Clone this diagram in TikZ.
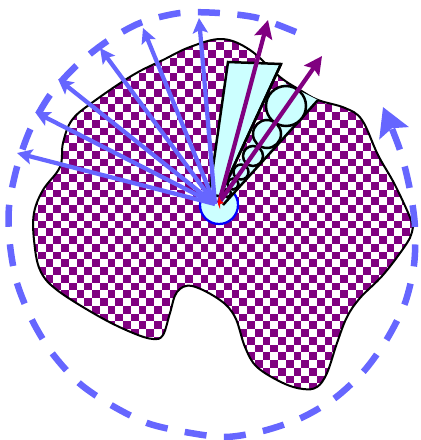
\documentclass[tikz,border=0pt]{standalone}
\usepackage{amsmath,amssymb}
\usetikzlibrary{arrows.meta}
\definecolor{rayblue}{HTML}{6666FF}
\definecolor{checkpurple}{HTML}{800080}
\definecolor{paleCyan}{HTML}{CCFFFF}
\begin{document}
\begin{tikzpicture}[x=0.02cm, y=-0.02cm, >=Stealth,
    ray/.style={rayblue, line width=0.085cm, -{Stealth[length=0.3cm, width=0.3cm, inset=0.06cm]}},
    beam/.style={checkpurple, line width=0.085cm, -{Stealth[length=0.36cm, width=0.36cm, inset=0.06cm]}},
    wedge/.style={fill=paleCyan, draw=black, line width=0.05cm},
    bubble/.style={fill=paleCyan, draw=black, line width=0.05cm}]
    \useasboundingbox (0,0) rectangle (420,440);
    \def\blob{plot[smooth cycle, tension=0.6] coordinates {
        (222,39) (250,50) (280,77) (300,90) (318,100) (345,108) (362,120) (378,155)
        (395,185) (411,220) (412,232) (405,246) (383,275) (360,298) (347,317) (337,343) (327,373)
        (317,387) (303,389) (283,383) (257,367) (245,347) (235,317) (220,300) (192,286)
        (177,292) (170,313) (163,335) (153,339) (133,333) (100,317) (57,290) (40,270)
        (34,240) (34,213) (43,190) (60,167) (63,143) (72,120) (93,102) (133,75)
        (163,60) (190,47)}}

    % Checkered region
    \begin{scope}
        \clip \blob;
        \foreach \i in {0,...,55} \foreach \j in {0,...,57} {
            \pgfmathparse{int(mod(\i+\j,2))}
            \ifnum\pgfmathresult=0
                \fill[checkpurple] (\i*7.75-1,\j*7.75-4.25) rectangle ++(7.75,7.75);
            \fi
        }
    \end{scope}
    \draw[line width=0.04cm] \blob;

    % Dashed sweep
    \draw[rayblue, line width=0.13cm, dash pattern=on 0.44cm off 0.35cm, -{Stealth[length=0.56cm, width=0.62cm, inset=0.1cm]}]
        plot[smooth, tension=0.5] coordinates {
        (296,32) (258,18) (219,13) (180,13) (140,23) (106,42) (76,66) (50,95) (30,130) (17,167)
        (9,207) (10,245) (17,283) (32,320) (52,353) (79,383) (111,405) (147,423) (185,432) (225,437)
        (263,431) (301,418) (335,398) (364,371) (387,339) (405,303) (414,265) (415,227) (410,190) (400,150) (383,107)};

    % Wedges
    \coordinate (apex) at (220,196);
    \coordinate (wedgeLeft) at (209,195);
    \coordinate (wedgeRight) at (223,205);
    \coordinate (wedgeTopA) at (228,62);
    \coordinate (wedgeTopB) at (281,64);
    \coordinate (wedgeTopC) at (318,100);
    \fill[paleCyan] (219,205) circle (19);
    \draw[blue, line width=0.045cm] (219,205) circle (19);
    \draw[wedge] (wedgeLeft) -- (wedgeTopA) -- (wedgeTopB) -- (apex) -- cycle;
    \fill[paleCyan] (apex) -- (284,83) -- (wedgeTopC) -- (wedgeRight) -- cycle;
    \draw[line width=0.05cm] (apex) -- (wedgeTopB);
    \draw[line width=0.05cm] (wedgeRight) -- (wedgeTopC);

    % Bubbles
    \foreach \cx/\cy/\cr in {286/106/20, 267/134/14, 253/156/10, 241/172/7.5, 233/184/5.5, 227/193/4} {
        \draw[bubble] (\cx,\cy) circle (\cr);
    }

    % Rays
    \foreach \tx/\ty in {17/153, 35/112, 58/79, 100/48, 143/28, 199/18} {
        \draw[ray] (215,204) -- (\tx,\ty);
    }
    \draw[beam] (219,203) -- (268,20);
    \draw[beam] (219,203) -- (322,56);
    \fill[red] (219,196) -- (221,201) -- (224,203) -- (220,204) -- (220,209) -- (218,204) -- cycle;
\end{tikzpicture}
\end{document}
